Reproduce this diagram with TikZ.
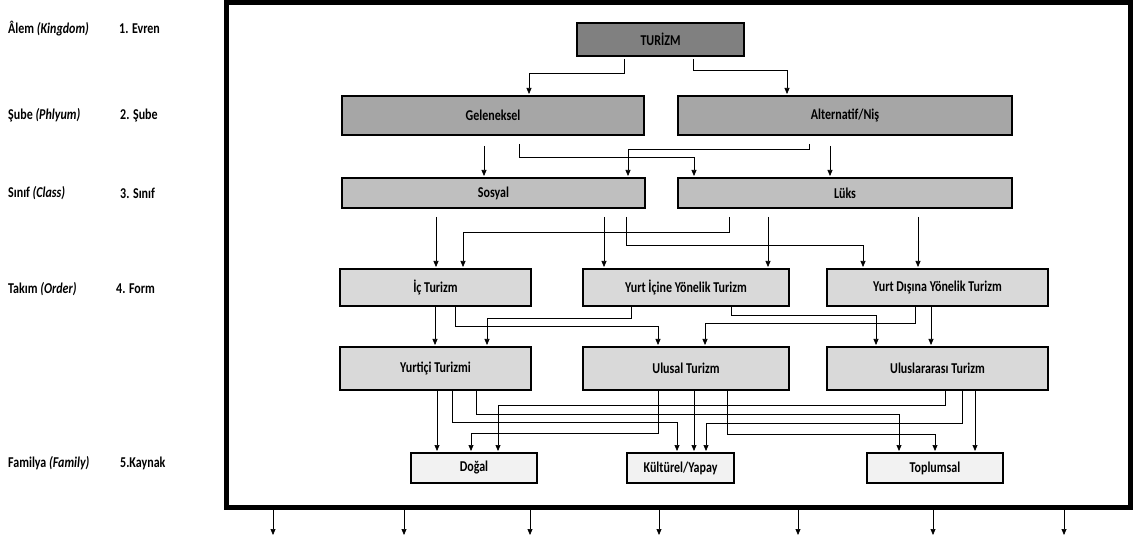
\documentclass[tikz,border=0pt]{standalone}
\usepackage{fontspec}
\setmainfont{Carlito}[FakeStretch=0.8]
\usetikzlibrary{arrows.meta}
\definecolor{cA}{RGB}{128,128,128}
\definecolor{cB}{RGB}{166,166,166}
\definecolor{cC}{RGB}{191,191,191}
\definecolor{cD}{RGB}{217,217,217}
\definecolor{cE}{RGB}{242,242,242}
\begin{document}
\begin{tikzpicture}[x=1pt,y=-1pt,
  every node/.style={font=\fontsize{15}{17}\selectfont\bfseries},
  box/.style={draw=black,line width=1.1pt,inner sep=0pt,outer sep=0pt},
  lab/.style={anchor=west,inner sep=0pt},
  arr/.style={draw=black,line width=0.7pt,-{Triangle[length=6pt,width=5pt]},shorten >=2pt},
  gapA/.style={shorten <=9pt}]
\useasboundingbox (0,0) rectangle (1141,537);
% frame
\node[draw=black,line width=5pt,inner sep=0pt,outer sep=0pt,minimum width=904pt,minimum height=504pt] (frame) at (678,255) {};
% left labels
\node[lab] (l1) at (8,29) {Âlem \textit{(Kingdom)}};
\node[lab] (r1) at (119,29) {1. Evren};
\node[lab] (l2) at (8,115) {Şube \textit{(Phlyum)}};
\node[lab] (r2) at (120,115) {2. Şube};
\node[lab] (l3) at (8,193) {Sınıf \textit{(Class)}};
\node[lab] (r3) at (120,193) {3. Sınıf};
\node[lab] (l4) at (8,289) {Takım \textit{(Order)}};
\node[lab] (r4) at (116,289) {4. Form};
\node[lab] (l5) at (8,463) {Familya \textit{(Family)}};
\node[lab] (r5) at (120,463) {5.Kaynak};
% boxes
\node[box,fill=cA,minimum width=167pt,minimum height=33pt] (tur) at (660.5,39.5) {TURİZM};
\node[box,fill=cB,minimum width=302pt,minimum height=39pt] (gel) at (493,115.5) {Geleneksel};
\node[box,fill=cB,minimum width=334pt,minimum height=39pt] (alt) at (845,115.5) {Alternatif/Niş};
\node[box,fill=cC,minimum width=303pt,minimum height=30pt] (sos) at (493.5,193) {Sosyal};
\node[box,fill=cC,minimum width=334pt,minimum height=30pt] (luk) at (845,193) {Lüks};
\node[box,fill=cD,minimum width=191pt,minimum height=37pt] (ic) at (435.5,287.5) {İç Turizm};
\node[box,fill=cD,minimum width=206pt,minimum height=37pt] (yi) at (686,287.5) {Yurt İçine Yönelik Turizm};
\node[box,fill=cD,minimum width=221pt,minimum height=37pt] (yd) at (937.5,287.5) {Yurt Dışına Yönelik Turizm};
\node[box,fill=cD,minimum width=191pt,minimum height=43pt] (yt) at (435.5,368.5) {Yurtiçi Turizmi};
\node[box,fill=cD,minimum width=206pt,minimum height=43pt] (ul) at (686,368.5) {Ulusal Turizm};
\node[box,fill=cD,minimum width=221pt,minimum height=43pt] (uu) at (937.5,368.5) {Uluslararası Turizm};
\node[box,fill=cE,minimum width=126pt,minimum height=30pt] (dog) at (474,468) {Doğal};
\node[box,fill=cE,minimum width=107pt,minimum height=30pt] (kul) at (680.5,468) {Kültürel/Yapay};
\node[box,fill=cE,minimum width=136pt,minimum height=30pt] (top) at (935,468) {Toplumsal};
% level 0 -> 1
\draw[arr,shorten <=3pt] (tur.south -| 624,0) -- (624,73) -| (gel.north -| 529,0);
\draw[arr,shorten <=3pt] (tur.south -| 693,0) -- (693,70) -| (alt.north -| 787,0);
% level 1 -> 2
\draw[arr,shorten <=11pt] (gel.south -| 484,0) -- (sos.north -| 484,0);
\draw[arr,gapA] (gel.south -| 519,0) -- (519,157) -| (luk.north -| 694,0);
\draw[arr,gapA] (alt.south -| 809,0) -- (809,149) -| (sos.north -| 628,0);
\draw[arr,shorten <=11pt] (alt.south -| 830,0) -- (luk.north -| 830,0);
% level 2 -> 3
\draw[arr,gapA] (sos.south -| 436,0) -- (ic.north -| 436,0);
\draw[arr,gapA] (luk.south -| 729,0) -- (729,232) -| (ic.north -| 463,0);
\draw[arr,gapA] (sos.south -| 604,0) -- (yi.north -| 604,0);
\draw[arr,gapA] (sos.south -| 626,0) -- (626,245) -| (yd.north -| 863,0);
\draw[arr,gapA] (luk.south -| 768,0) -- (yi.north -| 768,0);
\draw[arr,gapA] (luk.south -| 918,0) -- (yd.north -| 918,0);
% level 3 -> 4
\draw[arr] (ic.south -| 435,0) -- (yt.north -| 435,0);
\draw[arr] (ic.south -| 455,0) -- (455,326) -| (ul.north -| 658,0);
\draw[arr] (yi.south -| 631,0) -- (631,318) -| (yt.north -| 487,0);
\draw[arr] (yi.south -| 731,0) -- (731,315) -| (uu.north -| 876,0);
\draw[arr] (yd.south -| 915,0) -- (915,323) -| (ul.north -| 705,0);
\draw[arr] (yd.south -| 931,0) -- (uu.north -| 931,0);
% level 4 -> 5
\draw[arr] (yt.south -| 437,0) -- (dog.north -| 437,0);
\draw[arr] (yt.south -| 452,0) -- (452,422) -| (kul.north -| 677,0);
\draw[arr] (yt.south -| 476,0) -- (476,414) -| (top.north -| 899,0);
\draw[arr] (ul.south -| 658,0) -- (658,433) -| (dog.north -| 471,0);
\draw[arr] (ul.south -| 694,0) -- (kul.north -| 694,0);
\draw[arr] (ul.south -| 727,0) -- (727,434) -| (top.north -| 935,0);
\draw[arr] (uu.south -| 945,0) -- (945,405) -| (dog.north -| 498,0);
\draw[arr] (uu.south -| 962,0) -- (962,423) -| (kul.north -| 706,0);
\draw[arr] (uu.south -| 975,0) -- (top.north -| 975,0);
% bottom arrows
\foreach \i/\xx in {1/273,2/404,3/530,4/659,5/798,6/933,7/1064}{
  \coordinate (b\i) at (\xx,535);
  \draw[arr,shorten <=2.5pt,shorten >=0pt] (frame.south -| b\i) -- (b\i);
}
\end{tikzpicture}
\end{document}
